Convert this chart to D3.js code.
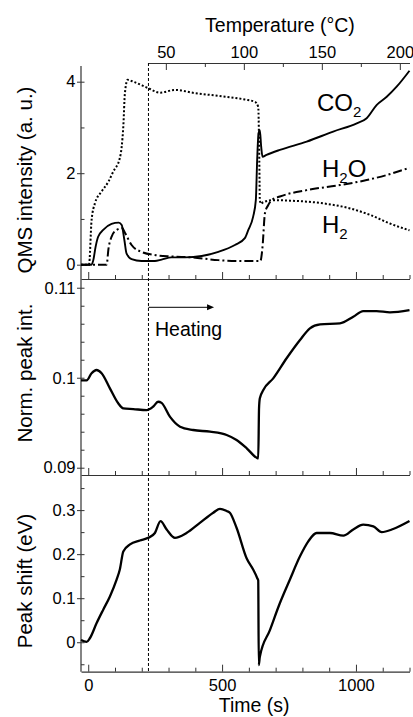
<!DOCTYPE html>
<html><head><meta charset="utf-8">
<script src="https://cdn.jsdelivr.net/npm/d3@7/dist/d3.min.js"></script>
<style>
body{margin:0;background:#fff;}
svg{display:block;font-family:"Liberation Sans",Arial,Helvetica,sans-serif;}
</style></head>
<body><svg id="c" width="413" height="717"></svg>
<script>
// ---------- data ----------
const h2T  = [-27, 3, 12.6, 25, 50, 75, 93, 118, 125, 131, 137, 147, 168, 224, 268, 324, 399, 486, 585, 623, 635, 639, 641, 646, 652, 691, 753, 878, 978, 1052, 1127, 1200];
const h2V  = [0, 0, 0.98, 1.34, 1.6, 1.81, 2.03, 2.33, 2.58, 3.02, 3.75, 4.04, 4.0, 3.86, 3.76, 3.82, 3.75, 3.69, 3.61, 3.56, 3.45, 2.29, 1.41, 1.33, 1.36, 1.41, 1.40, 1.34, 1.23, 1.09, 0.90, 0.75];
const co2T = [-27, 12, 19, 27.5, 37, 56, 87, 114, 125, 135, 143, 162, 199, 249, 274, 311, 361, 424, 486, 548, 585, 598, 616, 626, 631, 636, 641, 646, 651, 666, 716, 816, 915, 1003, 1040, 1077, 1115, 1152, 1200];
const co2V = [0, 0, 0.10, 0.39, 0.61, 0.76, 0.89, 0.92, 0.87, 0.54, 0.25, 0.12, 0.08, 0.08, 0.11, 0.16, 0.16, 0.19, 0.28, 0.43, 0.58, 0.76, 1.05, 1.41, 2.29, 2.87, 2.94, 2.58, 2.36, 2.40, 2.51, 2.69, 2.91, 3.09, 3.20, 3.49, 3.67, 3.89, 4.24];
const h2oT = [-27, 69, 75, 87, 106, 127, 137, 162, 199, 249, 311, 386, 486, 585, 643, 651, 660, 672, 685, 716, 816, 940, 1040, 1115, 1200];
const h2oV = [0, 0, 0.32, 0.61, 0.76, 0.80, 0.70, 0.43, 0.28, 0.21, 0.18, 0.16, 0.10, 0.08, 0.08, 0.39, 1.12, 1.30, 1.41, 1.49, 1.63, 1.74, 1.85, 1.96, 2.12];
const intT = [-27, -6, 12.6, 31, 50, 81, 112, 131, 168, 218, 243, 261, 274, 305, 343, 392, 455, 517, 554, 592, 629, 635, 638, 641, 654, 691, 741, 791, 828, 866, 940, 990, 1027, 1077, 1127, 1200];
const intV = [0.0997, 0.0997, 0.1005, 0.10086, 0.1005, 0.09882, 0.09716, 0.0966, 0.09652, 0.0964, 0.0968, 0.09733, 0.0972, 0.09567, 0.09456, 0.09419, 0.0940, 0.09363, 0.09308, 0.09216, 0.09111, 0.09104, 0.0966, 0.09771, 0.09863, 0.09993, 0.10216, 0.10419, 0.10549, 0.10593, 0.10604, 0.10678, 0.10741, 0.1074, 0.10727, 0.10752];
const shT  = [-27, -6, 6, 31, 56, 81, 106, 118, 131, 156, 193, 224, 249, 270, 293, 324, 367, 417, 467, 492, 517, 529, 554, 592, 616, 631, 635, 637, 641, 679, 716, 753, 791, 822, 853, 903, 953, 990, 1027, 1065, 1096, 1139, 1200];
const shV  = [0.005, 0.001, 0.009, 0.043, 0.074, 0.104, 0.142, 0.165, 0.206, 0.222, 0.231, 0.237, 0.248, 0.275, 0.256, 0.237, 0.248, 0.271, 0.294, 0.303, 0.298, 0.294, 0.26, 0.19, 0.165, 0.146, 0.14, -0.052, -0.033, 0.028, 0.089, 0.142, 0.195, 0.229, 0.248, 0.248, 0.242, 0.256, 0.267, 0.263, 0.25, 0.257, 0.275];

const timeTicks = [0,500,1000];
const timeMinor = [100,200,300,400,600,700,800,900,1100,1200];
const tempTicks = [50,100,150,200];
const tempMinor = [75,125,175];
const qmsTicks = [0,2,4], qmsMinor = [1,3];
const intTicks = [0.09,0.1,0.11], intMinor = [0.092,0.094,0.096,0.098,0.102,0.104,0.106,0.108];
const shTicks = [0,0.1,0.2,0.3], shMinor = [-0.05,0.05,0.15,0.25,0.35];
const heatStart = 225, tempAtStart = 38.85, tempAtEnd = 206.2;

// ---------- layout ----------
const svg = d3.select("#c");
const FONT = 16.5, TFONT = 20.5;
const x = d3.scaleLinear().domain([-27,1200]).range([81,409.5]);
const panels = [
  {y: d3.scaleLinear().domain([-0.3126,4.343]).range([279,66]), top:66, bot:279, ticks:qmsTicks, minor:qmsMinor, fmt:d=>d3.format("d")(d), title:"QMS intensity (a. u.)", tc:180},
  {y: d3.scaleLinear().domain([0.08919,0.11097]).range([475,279]), top:279, bot:475, ticks:intTicks, minor:intMinor, fmt:d=>String(+d.toFixed(3)), title:"Norm. peak int.", tc:373},
  {y: d3.scaleLinear().domain([-0.0669,0.3797]).range([671.7,475]), top:475, bot:671.7, ticks:shTicks, minor:shMinor, fmt:d=>String(+d.toFixed(2)), title:"Peak shift (eV)", tc:581}
];
const AX = "#333";

function styleAxis(g){
  g.select(".domain").attr("stroke",AX).attr("stroke-width",1.2);
  g.selectAll(".tick line").attr("stroke",AX).attr("stroke-width",1);
  g.selectAll("text").attr("fill","#000").style("font-size",FONT+"px").style("font-family","Liberation Sans, Arial, sans-serif");
}

panels.forEach((p,i)=>{
  const gb = svg.append("g").attr("transform",`translate(0,${p.bot})`)
    .call(d3.axisBottom(x).tickValues(timeTicks).tickSize(-7).tickSizeOuter(0).tickPadding(7.5).tickFormat(i===2? d3.format("d") : ()=>""));
  styleAxis(gb);
  const gbm = svg.append("g").attr("transform",`translate(0,${p.bot})`)
    .call(d3.axisBottom(x).tickValues(timeMinor).tickSize(-4).tickSizeOuter(0).tickFormat(()=>""));
  styleAxis(gbm); gbm.select(".domain").remove();
  const gl = svg.append("g").attr("transform",`translate(${x.range()[0]},0)`)
    .call(d3.axisLeft(p.y).tickValues(p.ticks).tickSize(4).tickSizeOuter(0).tickPadding(1.5).tickFormat(p.fmt));
  styleAxis(gl);
  gl.select(".domain").attr("d",`M0,${p.top}V${p.bot}`);
  gl.selectAll(".tick line").attr("x1",3.5).attr("x2",-4);
  const glm = svg.append("g").attr("transform",`translate(${x.range()[0]},0)`)
    .call(d3.axisLeft(p.y).tickValues(p.minor).tickSize(-3.5).tickSizeOuter(0).tickFormat(()=>""));
  styleAxis(glm); glm.select(".domain").remove();
  svg.append("text").attr("transform",`translate(31.5,${p.tc}) rotate(-90)`)
    .attr("text-anchor","middle").style("font-size",TFONT+"px").text(p.title);
});

// top temperature axis
const tx = d3.scaleLinear().domain([tempAtStart,tempAtEnd]).range([x(heatStart),x(1200)]);
const gt = svg.append("g").attr("transform","translate(0,63)")
  .call(d3.axisTop(tx).tickValues(tempTicks).tickSize(-7).tickSizeOuter(0).tickPadding(5).tickFormat(d3.format("d")));
styleAxis(gt);
const gtm = svg.append("g").attr("transform","translate(0,63)")
  .call(d3.axisTop(tx).tickValues(tempMinor).tickSize(-4).tickSizeOuter(0).tickFormat(()=>""));
styleAxis(gtm); gtm.select(".domain").remove();
svg.append("text").attr("x",(x(heatStart)+x(1200))/2+1).attr("y",32).attr("text-anchor","middle")
  .style("font-size","19.5px").text("Temperature (°C)");
svg.append("text").attr("x",(x(0)+x(1000))/2+32).attr("y",711.5).attr("text-anchor","middle")
  .style("font-size","19.5px").text("Time (s)");

// dashed heating-start line
svg.append("line").attr("x1",x(heatStart)).attr("x2",x(heatStart)).attr("y1",63).attr("y2",671.7)
  .attr("stroke","#000").attr("stroke-width",1).attr("stroke-dasharray","3,2");

// lines
function draw(T,V,p,dash,w){
  const data = T.map((t,i)=>[t,V[i]]);
  svg.append("path").datum(data)
    .attr("d", d3.line().x(d=>x(d[0])).y(d=>p.y(d[1])).curve(d3.curveMonotoneX))
    .attr("fill","none").attr("stroke","#000").attr("stroke-width",w)
    .attr("stroke-dasharray",dash||null).attr("stroke-linejoin","round");
}
draw(h2T,h2V,panels[0],"2,2",2);
draw(h2oT,h2oV,panels[0],"9,3,2,3",2);
draw(co2T,co2V,panels[0],null,1.9);
draw(intT,intV,panels[1],null,2.3);
draw(shT,shV,panels[2],null,2.3);

// species labels
function species(xp,yp,main,sub,rest){
  const t = svg.append("text").attr("x",xp).attr("y",yp).style("font-size","24px");
  t.append("tspan").text(main);
  t.append("tspan").attr("dy",6).style("font-size","15px").text(sub);
  if(rest) t.append("tspan").attr("dy",-6).text(rest);
}
species(317,110.5,"CO","2");
species(322,176.5,"H","2","O");
species(322,233,"H","2");

// heating arrow
const ay = 307.3, ax0 = x(heatStart), ax1 = x(470);
svg.append("line").attr("x1",ax0).attr("x2",ax1-6).attr("y1",ay).attr("y2",ay).attr("stroke","#000").attr("stroke-width",1);
svg.append("path").attr("d",`M${ax1},${ay}L${ax1-7},${ay-3}L${ax1-7},${ay+3}Z`).attr("fill","#000");
svg.append("text").attr("x",155).attr("y",335.5).style("font-size","19.5px").text("Heating");
</script></body></html>
